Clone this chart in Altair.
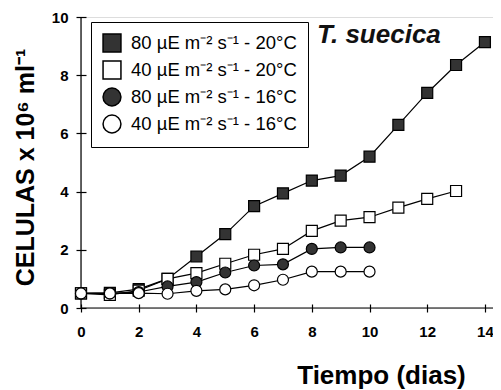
import altair as alt
import pandas as pd

series_names = [
    "80 µE m⁻² s⁻¹ - 20°C",
    "40 µE m⁻² s⁻¹ - 20°C",
    "80 µE m⁻² s⁻¹ - 16°C",
    "40 µE m⁻² s⁻¹ - 16°C",
]
days_1 = list(range(0, 15))
vals_1 = [0.5, 0.52, 0.65, 1.0, 1.77, 2.54, 3.5, 3.94, 4.38, 4.55, 5.2, 6.29, 7.39, 8.35, 9.14]
days_2 = list(range(0, 14))
vals_2 = [0.5, 0.45, 0.6, 1.0, 1.2, 1.52, 1.83, 2.03, 2.65, 3.0, 3.12, 3.45, 3.75, 4.02]
days_3 = list(range(0, 11))
vals_3 = [0.5, 0.5, 0.55, 0.74, 0.89, 1.22, 1.46, 1.5, 2.03, 2.08, 2.08]
days_4 = list(range(0, 11))
vals_4 = [0.5, 0.5, 0.51, 0.49, 0.59, 0.64, 0.78, 0.97, 1.25, 1.25, 1.25]

x_ticks = list(range(0, 15))
y_ticks = [0, 2, 4, 6, 8, 10]
species_label = "T. suecica"
species_pos = (8.18, 9.1)

rows = []
for name, ds, vs in zip(series_names, [days_1, days_2, days_3, days_4], [vals_1, vals_2, vals_3, vals_4]):
    for d, v in zip(ds, vs):
        rows.append({"serie": name, "dia": d, "cel": v})
df = pd.DataFrame(rows)

x_max = 14.28
x_scale = alt.Scale(domain=[0, x_max], nice=False, zero=False)
y_scale = alt.Scale(domain=[0, 10], nice=False)

x_axis = alt.Axis(
    values=x_ticks,
    labelExpr="datum.value % 2 == 0 ? datum.label : ''",
    domain=False, grid=False, offset=-4, tickSize=8, tickColor="black", tickWidth=1.2,
    labelFont="Liberation Sans", labelFontSize=15, labelFontWeight="bold", labelColor="black",
    labelPadding=12, labelFlush=False,
    title="Tiempo (dias)", titleFont="Liberation Sans", titleFontSize=26, titleFontWeight="bold",
    titleColor="black", titleX=300, titleY=79, titleBaseline="alphabetic", titleAlign="center",
)
y_axis = alt.Axis(
    values=y_ticks, domain=False, grid=False, offset=-5, tickSize=10, tickColor="black", tickWidth=1.2,
    labelFont="Liberation Sans", labelFontSize=15, labelFontWeight="bold", labelColor="black",
    labelPadding=8,
    title="CELULAS x 10⁶ ml⁻¹", titleFont="Liberation Sans", titleFontSize=25, titleFontWeight="bold",
    titleColor="black", titleX=-53, titleY=150, titleBaseline="alphabetic", titleAlign="center", titleAngle=270,
)

base = alt.Chart(df)

lines = base.mark_line(color="black", strokeWidth=1.2).encode(
    x=alt.X("dia:Q", scale=x_scale, axis=x_axis),
    y=alt.Y("cel:Q", scale=y_scale, axis=y_axis),
    detail="serie:N",
)

legend = alt.Legend(
    title=None, orient="none", legendX=10, legendY=5,
    strokeColor="black", padding=11, fillColor="white",
    labelFont="Liberation Sans", labelFontSize=18.5, labelColor="black", labelOffset=9, labelLimit=400,
    symbolSize=320, symbolStrokeWidth=1.5, rowPadding=3,
)

points = base.mark_point(filled=True, size=121, strokeWidth=1.2, opacity=1).encode(
    x="dia:Q",
    y="cel:Q",
    shape=alt.Shape("serie:N", scale=alt.Scale(domain=series_names, range=["square", "square", "circle", "circle"]), legend=legend),
    fill=alt.Fill("serie:N", scale=alt.Scale(domain=series_names, range=["#333333", "white", "#333333", "white"]), legend=legend),
    stroke=alt.Stroke("serie:N", scale=alt.Scale(domain=series_names, range=["black", "black", "black", "black"]), legend=legend),
)

xaxis_line = alt.Chart(pd.DataFrame({"y": [0]})).mark_rule(color="black", strokeWidth=1.2).encode(
    y=alt.Y("y:Q", scale=y_scale)
)
yaxis_line = alt.Chart(pd.DataFrame({"x": [0], "y": [0], "y2": [10]})).mark_rule(color="black", strokeWidth=1.2).encode(
    x=alt.X("x:Q", scale=x_scale), y=alt.Y("y:Q", scale=y_scale), y2="y2:Q"
)

label = alt.Chart(pd.DataFrame({"x": [species_pos[0]], "y": [species_pos[1]], "t": [species_label]})).mark_text(
    font="Liberation Sans", fontSize=26, fontWeight="bold", fontStyle="italic", align="left",
    baseline="alphabetic", color="#111111"
).encode(x=alt.X("x:Q", scale=x_scale), y=alt.Y("y:Q", scale=y_scale), text="t:N")

chart = alt.layer(xaxis_line, yaxis_line, lines, points, label).properties(
    width=412, height=291, autosize="none",
    padding={"left": 73, "top": 9, "right": 0, "bottom": 82},
).configure_view(stroke=None).configure(background="white")

chart.save("out.html", embed_options={"renderer": "svg", "actions": False})
